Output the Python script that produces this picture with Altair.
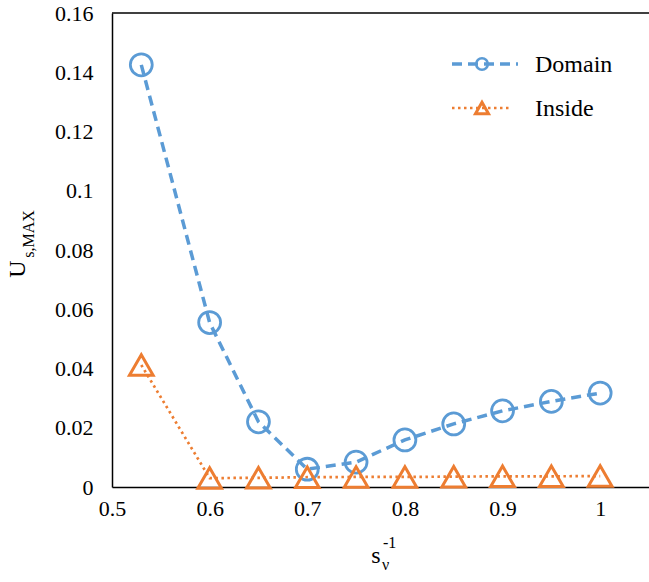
import altair as alt
import pandas as pd

# ---- data ----
x_vals = [0.53, 0.6, 0.65, 0.7, 0.75, 0.8, 0.85, 0.9, 0.95, 1.0]
domain_vals = [0.1425, 0.0555, 0.022, 0.0060, 0.0084, 0.0159, 0.0213, 0.0257, 0.0289, 0.0317]
inside_vals = [0.0412, 0.0030, 0.0031, 0.0033, 0.0034, 0.0034, 0.0035, 0.0036, 0.0036, 0.0037]
x_ticks = [0.5, 0.6, 0.7, 0.8, 0.9, 1.0]
y_ticks = [0, 0.02, 0.04, 0.06, 0.08, 0.1, 0.12, 0.14, 0.16]
series_names = ["Domain", "Inside"]

BLUE = "#5B9BD5"
ORANGE = "#ED7D31"
FONT = "Liberation Serif"
FS = 22
LFS = 24

W, H = 537, 474

df_dom = pd.DataFrame({"x": x_vals, "y": domain_vals})
df_ins = pd.DataFrame({"x": x_vals, "y": inside_vals})

xs = alt.Scale(domain=[0.5, 1.05], nice=False, zero=False)
ys = alt.Scale(domain=[0, 0.16], nice=False)

x_axis = alt.Axis(values=x_ticks, title=None, grid=False, ticks=False,
                  labelFont=FONT, labelFontSize=FS, labelColor="black",
                  labelPadding=11, domainColor="black", domainWidth=1.5,
                  labelFlush=False, labelOverlap=False,
                  labelExpr="datum.value == 1 ? '1' : format(datum.value, '.1f')")
y_axis = alt.Axis(values=y_ticks, title=None, grid=False, ticks=False,
                  labelFont=FONT, labelFontSize=FS, labelColor="black",
                  labelPadding=19, domainColor="black", domainWidth=1.5,
                  labelFlush=False, labelOverlap=False,
                  labelExpr="datum.value == 0 ? '0' : format(datum.value, '.2~f')")

def enc(chart):
    return chart.encode(
        x=alt.X("x:Q", scale=xs, axis=x_axis),
        y=alt.Y("y:Q", scale=ys, axis=y_axis),
    )

DOM_DASH = [10, 6]
INS_DASH = [2.5, 3.5]

dom_line = enc(alt.Chart(df_dom).mark_line(color=BLUE, strokeWidth=3.5, strokeDash=DOM_DASH))
dom_pts = enc(alt.Chart(df_dom).mark_point(shape="circle", filled=False, color=BLUE, size=480,
                                           strokeWidth=2.8, opacity=1))
ins_line = enc(alt.Chart(df_ins).mark_line(color=ORANGE, strokeWidth=2.7, strokeDash=INS_DASH))
ins_pts = enc(alt.Chart(df_ins).mark_point(shape="triangle-up", filled=False, color=ORANGE, size=560,
                                           strokeWidth=3, opacity=1))

one = pd.DataFrame({"a": [0]})

# top border of plot area
top_border = alt.Chart(one).mark_rule(color="black", strokeWidth=1.5).encode(
    x=alt.value(0), x2=alt.value(W), y=alt.value(0))

# legend (drawn by hand so that line + marker appear together)
leg_dom_line = alt.Chart(one).mark_rule(color=BLUE, strokeWidth=3.5, strokeDash=DOM_DASH).encode(
    x=alt.value(340), x2=alt.value(406), y=alt.value(51))
leg_dom_pt = alt.Chart(one).mark_point(shape="circle", filled=False, color=BLUE, size=135,
                                      strokeWidth=2.6, opacity=1).encode(
    x=alt.value(370), y=alt.value(51))
leg_ins_line = alt.Chart(one).mark_rule(color=ORANGE, strokeWidth=2.7, strokeDash=INS_DASH).encode(
    x=alt.value(340), x2=alt.value(400), y=alt.value(95))
leg_ins_pt = alt.Chart(one).mark_point(shape="triangle-up", filled=False, color=ORANGE, size=170,
                                      strokeWidth=3, opacity=1).encode(
    x=alt.value(370), y=alt.value(95))
leg_dom_txt = alt.Chart(one).mark_text(text=series_names[0], font=FONT, fontSize=LFS, align="left",
                                       baseline="middle", color="black").encode(
    x=alt.value(423), y=alt.value(52))
leg_ins_txt = alt.Chart(one).mark_text(text=series_names[1], font=FONT, fontSize=LFS, align="left",
                                       baseline="middle", color="black").encode(
    x=alt.value(423), y=alt.value(96))

# y-axis title U_{s,MAX}
yt_main = alt.Chart(one).mark_text(text="U", font=FONT, fontSize=LFS, angle=270, align="center",
                                   baseline="alphabetic", color="black").encode(
    x=alt.value(-87), y=alt.value(256))
yt_sub = alt.Chart(one).mark_text(text="s,MAX", font=FONT, fontSize=16, angle=270, align="center",
                                  baseline="alphabetic", color="black").encode(
    x=alt.value(-78), y=alt.value(221))

# x-axis title s_v^{-1}
xt_main = alt.Chart(one).mark_text(text="s", font=FONT, fontSize=LFS, align="center",
                                   baseline="alphabetic", color="black").encode(
    x=alt.value(264), y=alt.value(550))
xt_sub = alt.Chart(one).mark_text(text="ν", font=FONT, fontSize=16, align="left",
                                  baseline="alphabetic", color="black").encode(
    x=alt.value(270), y=alt.value(557))
xt_sup = alt.Chart(one).mark_text(text="-1", font=FONT, fontSize=16, align="left",
                                  baseline="alphabetic", color="black").encode(
    x=alt.value(271), y=alt.value(535))

chart = alt.layer(
    dom_line, ins_line, dom_pts, ins_pts, top_border,
    leg_dom_line, leg_dom_pt, leg_ins_line, leg_ins_pt, leg_dom_txt, leg_ins_txt,
    yt_main, yt_sub, xt_main, xt_sub, xt_sup,
).properties(
    width=W, height=H,
    autosize=alt.AutoSizeParams(type="none"),
    padding={"left": 112, "top": 13, "right": 0, "bottom": 95},
    background="white",
).configure_view(stroke=None)

chart.save("out.html", embed_options={"renderer": "svg", "actions": False})
